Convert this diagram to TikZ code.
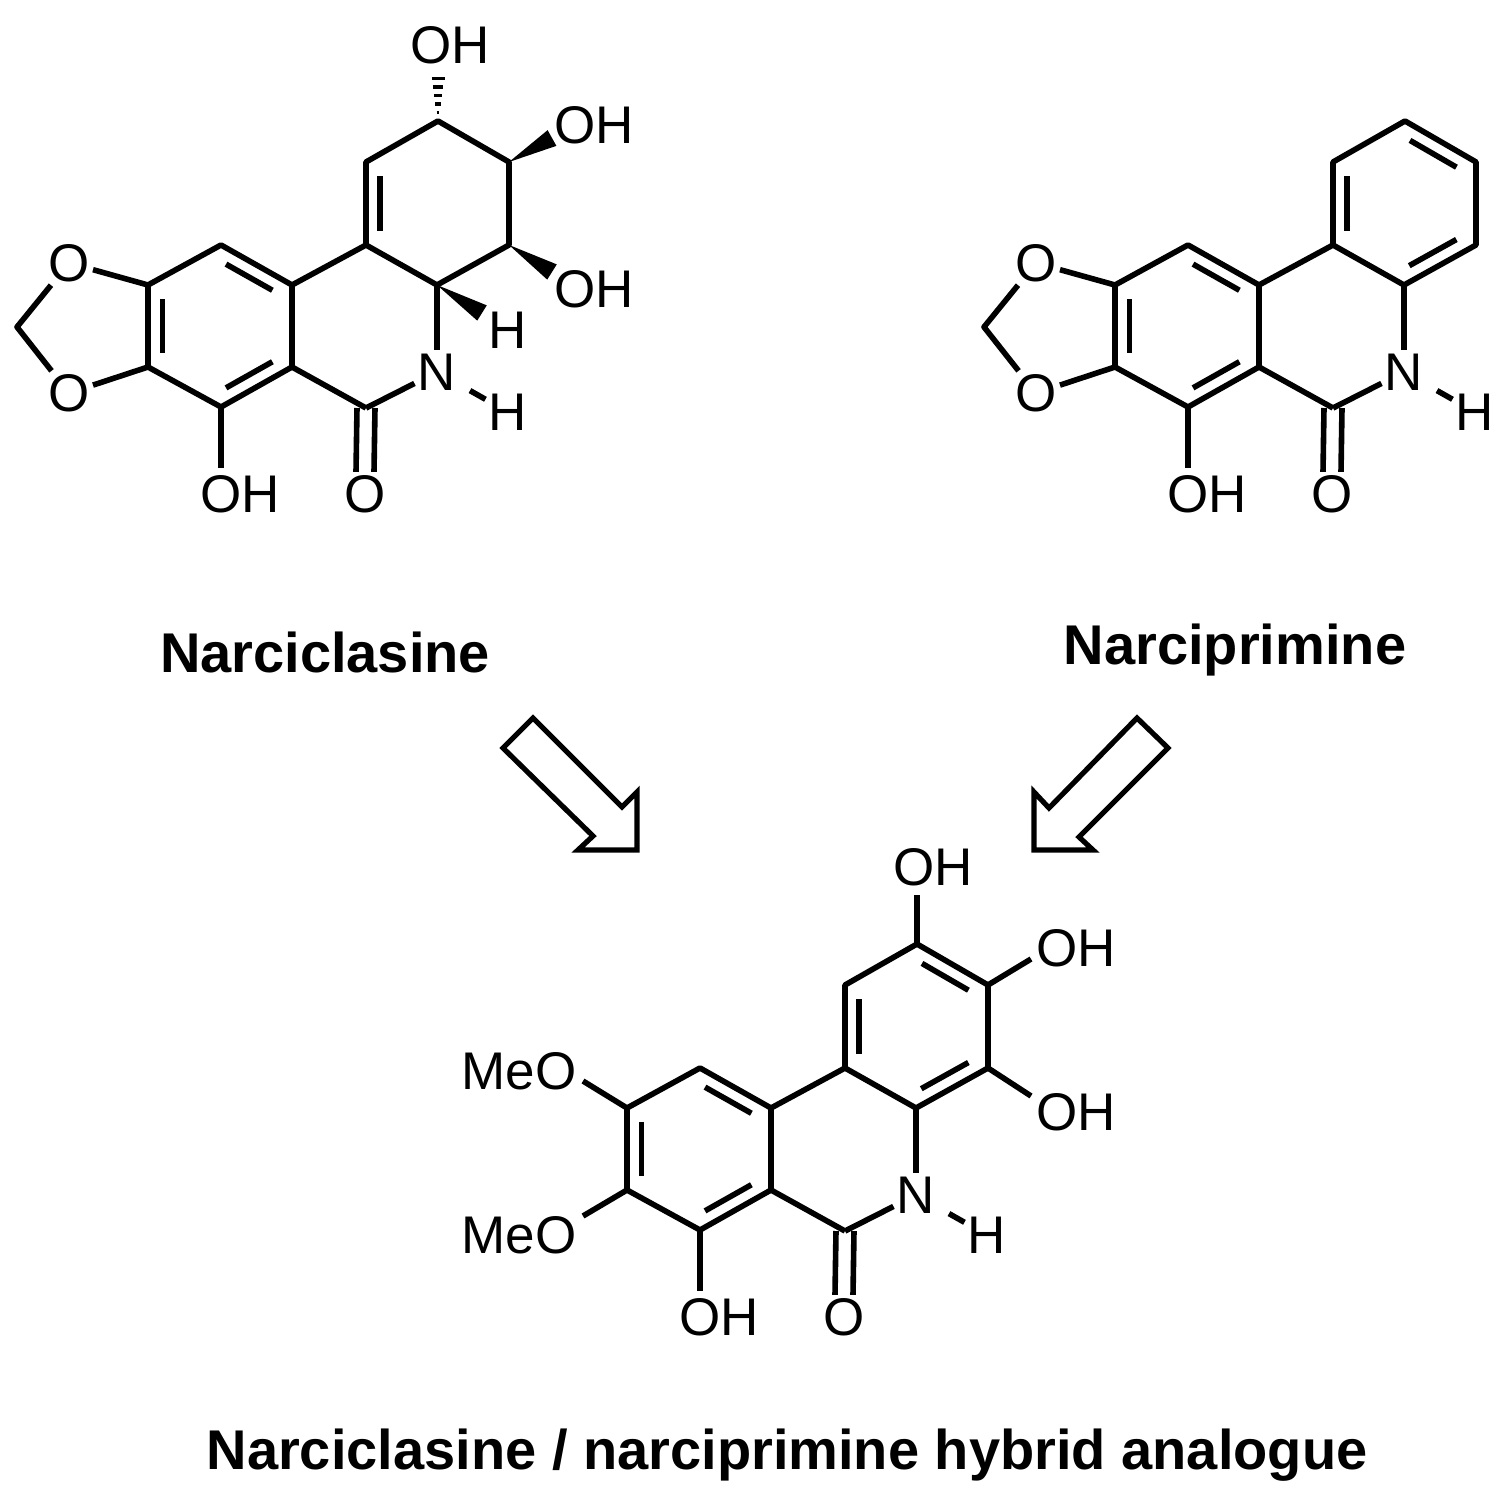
\documentclass[tikz,border=0pt]{standalone}
\usepackage{fontspec}
\setmainfont{Liberation Sans}
\usetikzlibrary{calc}
\tikzset{
  bond/.style={line width=2.8pt},
  atom/.style={font=\fontsize{26.5}{26.5}\selectfont, inner sep=1.5pt},
  title/.style={font=\fontsize{28}{28}\selectfont\bfseries},
  blockarrow/.style={line width=2.6pt, line join=miter, fill=white}
}
\newcommand\dbl[4]{\draw[bond, shorten <=3pt, shorten >=3pt] ($(#1#2)!0.2!(#1#4)$) -- ($(#1#3)!0.2!(#1#4)$);}
\newcommand\wedgebond[2]{\fill (#1) -- ($(#2)!4.5pt!90:(#1)$) -- ($(#2)!4.5pt!-90:(#1)$) -- cycle;}
\newcommand\molcore[1]{%
  \coordinate (#1a1) at (221,245); \coordinate (#1a2) at (292,285);
  \coordinate (#1a3) at (292,367); \coordinate (#1a4) at (221,407);
  \coordinate (#1a5) at (148,367); \coordinate (#1a6) at (148,285);
  \coordinate (#1ca) at (220,326);
  \coordinate (#1b2) at (366,245); \coordinate (#1b3) at (437,285);
  \coordinate (#1b5) at (366,408); \coordinate (#1cb) at (365,326);
  \coordinate (#1c3) at (509,245); \coordinate (#1c4) at (509,162);
  \coordinate (#1c5) at (438,121); \coordinate (#1c6) at (366,162);
  \coordinate (#1cc) at (437,203);
  \node[atom] (#1N) at (437,372) {N};
  \node[atom] (#1NH) at (508,412) {H};
  \node[atom] (#1Ok) at (365,494) {O};
  \node[atom] (#1OHb) at (240,494) {OH};
  \coordinate (#1ohb) at (221,468);
  \draw[bond, line join=round] (#1a1) -- (#1a2) -- (#1a3) -- (#1a4) -- (#1a5) -- (#1a6) -- cycle;
  \draw[bond, line join=round] (#1a3) -- (#1b5); \draw[bond] (#1a2) -- (#1b2);
  \draw[bond, line join=round] (#1c6) -- (#1b2) -- (#1b3) -- (#1c3) -- (#1c4) -- (#1c5) -- cycle;
  \draw[bond] (#1b3) -- (#1N); \draw[bond] (#1N) -- (#1b5);
  \draw[bond, shorten <=6pt] (#1N) -- (#1NH);
  \draw[bond] (#1a4) -- (#1ohb);
  \draw[bond] ([xshift=-4.5pt]#1b5) -- ([xshift=-4.5pt]#1Ok.north);
  \draw[bond] ([xshift=4.5pt]#1b5) -- ([xshift=4.5pt]#1Ok.north);
  \dbl{#1}{a1}{a2}{ca} \dbl{#1}{a5}{a6}{ca} \dbl{#1}{a3}{a4}{ca}
  \dbl{#1}{c6}{b2}{cc}
}
\newcommand\dioxole[1]{%
  \node[atom] (#1Oa) at (69,263) {O};
  \node[atom] (#1Ob) at (69,393) {O};
  \coordinate (#1ch) at (17,327);
  \draw[bond] (#1a6) -- (#1Oa); \draw[bond] (#1a5) -- (#1Ob);
  \draw[bond, line join=round] (#1Oa) -- (#1ch) -- (#1Ob);
}
\begin{document}
\begin{tikzpicture}[x=0.5pt,y=-0.5pt]
\useasboundingbox (0,0) rectangle (1506,1510);
% Narciclasine
\molcore{p}
\dioxole{p}
\node[atom] (pOHt) at (450,45) {OH};
\node[atom] (pOH1) at (594,125) {OH};
\node[atom] (pOH2) at (594,289) {OH};
\node[atom] (pH4) at (508,330) {H};
\coordinate (pw1) at (552,138); \coordinate (pw2) at (552,272); \coordinate (pw3) at (482,313);
\wedgebond{pc4}{pw1} \wedgebond{pc3}{pw2} \wedgebond{pb3}{pw3}
\foreach \k in {1,...,5} \draw[line width=1.8pt] ($(pc5)+({-1.3*\k},{-8.5*\k})$) -- ++({2.6*\k},0);
\node[title] (t1) at (325,652) {Narciclasine};
% Narciprimine
\begin{scope}[shift={(967,0)}]
\molcore{q}
\dioxole{q}
\dbl{q}{c5}{c4}{cc} \dbl{q}{c3}{b3}{cc}
\end{scope}
\node[title] (t2) at (1235,650) {Narciprimine};
% Hybrid
\begin{scope}[shift={(479,823)}]
\molcore{r}
\dbl{r}{c5}{c4}{cc} \dbl{r}{c3}{b3}{cc}
\node[atom] (rOHt) at (454,44) {OH};
\node[atom] (rOH1) at (597,125) {OH};
\node[atom] (rOH2) at (597,289) {OH};
\node[atom] (rMe1) at (40,248) {MeO};
\node[atom] (rMe2) at (40,412) {MeO};
\coordinate (re1) at (438,72); \coordinate (re2) at (552,136); \coordinate (re3) at (552,273);
\coordinate (re4) at (104,258); \coordinate (re5) at (104,393);
\draw[bond] (rc5) -- (re1); \draw[bond] (rc4) -- (re2); \draw[bond] (rc3) -- (re3);
\draw[bond] (ra6) -- (re4); \draw[bond] (ra5) -- (re5);
\end{scope}
\node[title] (t3) at (787,1455) {Narciclasine / narciprimine hybrid analogue};
% arrows
\draw[blockarrow] (533,718) -- (622,807) -- (637,792) -- (637,850) -- (578,850) -- (593,836) -- (503,748) -- cycle;
\draw[blockarrow] (1137,718) -- (1049,808) -- (1034,792) -- (1034,850) -- (1093,850) -- (1079,837) -- (1168,748) -- cycle;
\end{tikzpicture}
\end{document}
